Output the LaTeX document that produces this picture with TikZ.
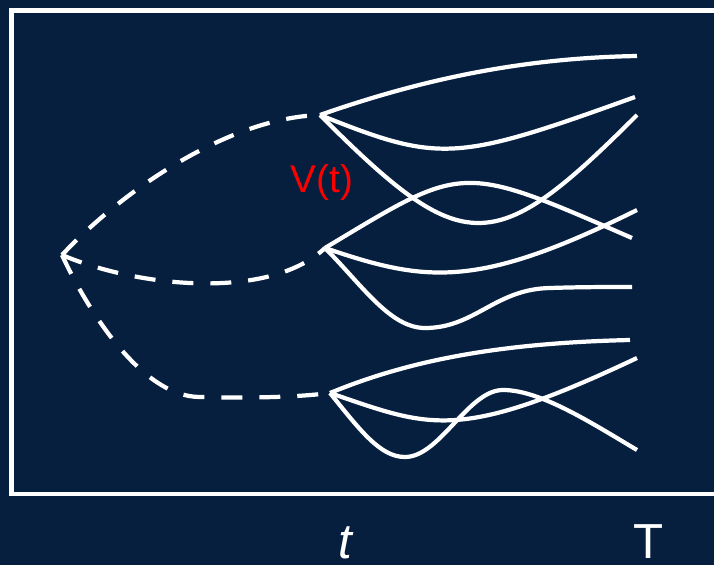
\documentclass[tikz,border=0pt]{standalone}
\usepackage{fontspec}
\setmainfont{Liberation Sans}

\definecolor{navybg}{RGB}{7, 31, 63}
\definecolor{valred}{RGB}{255, 0, 0}

\begin{document}
\begin{tikzpicture}[
    x=0.02cm, y=-0.02cm,
    traj/.style={draw=white, line width=2.4pt},
    backtraj/.style={draw=white, line width=2.4pt, dash pattern=on 0.42cm off 0.34cm},
    lbl/.style={font=\fontsize{28}{30}\selectfont, text=white, inner sep=0pt, anchor=base},
  ]
    % === background and frame ===
    \clip (0,0) rectangle (714,565);
    \fill[navybg] (0,0) rectangle (714,565);
    \draw[white, line width=2.8pt] (11.5,10.5) rectangle (740,494);

    % --- branching points ---
    \coordinate (L) at (62,255);
    \coordinate (A) at (320,115);
    \coordinate (B) at (325,248);
    \coordinate (C) at (330,393);

    % --- end points at T ---
    \coordinate (a1) at (637,56);
    \coordinate (a2) at (635,97);
    \coordinate (a3) at (637,115);
    \coordinate (b1) at (632,238);
    \coordinate (b2) at (637,210);
    \coordinate (b3) at (632,287);
    \coordinate (c1) at (630,340);
    \coordinate (c2) at (637,358);
    \coordinate (c3) at (637,450);

    % === forward paths from A ===
    \draw[traj] (A) .. controls (420,80) and (520,58) .. (a1);
    \draw[traj] (A) .. controls (440,163) and (455,162) .. (a2);
    \draw[traj] (A) .. controls (464,259) and (493,259) .. (a3);

    % === forward paths from B ===
    \draw[traj] (B) .. controls (465,164) and (458,162) .. (b1);
    \draw[traj] (B) .. controls (425,282) and (476,290) .. (b2);
    \draw[traj] (B) .. controls (362,285) and (390,328) .. (425,328)
                    .. controls (475,328) and (495,289) .. (550,288)
                    .. controls (580,287) and (605,287) .. (b3);

    % === forward paths from C ===
    \draw[traj] (C) .. controls (410,360) and (500,343) .. (c1);
    \draw[traj] (C) .. controls (430,427) and (457,443) .. (c2);
    \draw[traj] (C) .. controls (360,430) and (380,457) .. (405,457)
                    .. controls (440,457) and (468,390) .. (503,390)
                    .. controls (540,390) and (590,422) .. (c3);

    % === dashed paths, drawn out from the start ===
    \draw[backtraj] (L) .. controls (118,195) and (225,118) .. (A);
    \draw[backtraj] (L) .. controls (140,288) and (270,300) .. (B);
    \draw[backtraj] (L) .. controls (85,305) and (140,397) .. (200,397)
                    .. controls (240,398) and (290,398) .. (C);

    % --- labels ---
    \node[font=\fontsize{22}{24}\selectfont, text=valred] (vt) at (322,182) {V(t)};
    \node[lbl] (tlbl) at (345,558) {\itshape t};
    \node[lbl] (Tlbl) at (649,558) {T};
\end{tikzpicture}
\end{document}
